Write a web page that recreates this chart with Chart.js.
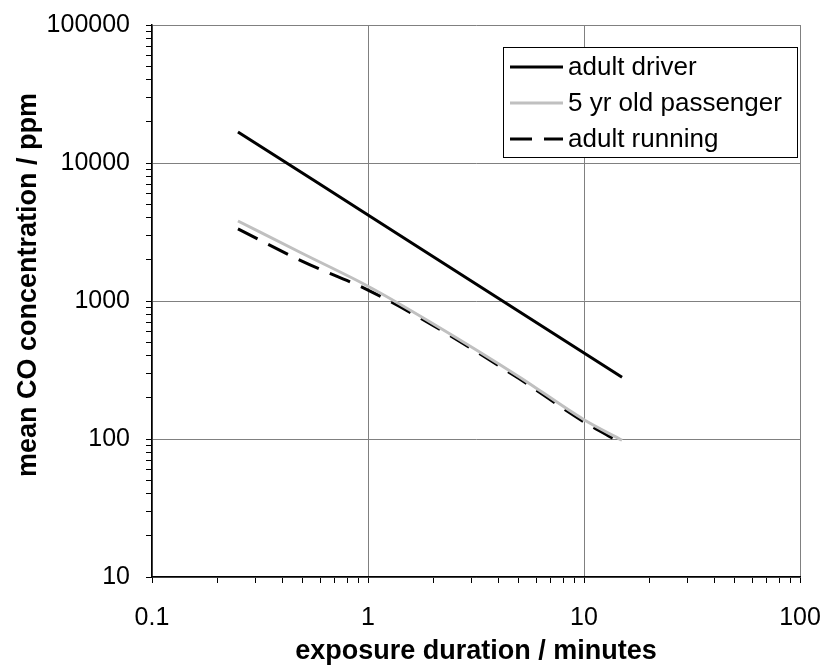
<!DOCTYPE html>
<html>
<head>
<meta charset="utf-8">
<script src="https://cdn.jsdelivr.net/npm/chart.js@4.4.1/dist/chart.umd.min.js"></script>
<style>
  html, body { margin: 0; padding: 0; background: #fff; }
  #wrap { width: 822px; height: 668px; }
</style>
</head>
<body>
<div id="wrap"><canvas id="plot"></canvas></div>
<script>
// exposure duration (minutes) and mean CO concentration (ppm)
const driverX = [0.25, 1, 15];
const driverY = [16800, 4200, 280];
const passengerX = [0.25, 0.5, 1, 2, 5, 10, 15];
const passengerY = [3800, 2200, 1280, 685, 283, 138, 98];
const runningX = [0.25, 0.5, 1, 2, 5, 10, 15];
const runningY = [3330, 1930, 1200, 665, 274, 133, 93];

const xTickLabels = ['0.1', '1', '10', '100'];
const yTickLabels = ['10', '100', '1000', '10000', '100000'];
const yTitle = 'mean CO concentration / ppm';

const FONT = 'Liberation Sans, Arial, sans-serif';

function pts(xs, ys) { return xs.map((x, i) => ({ x: x, y: ys[i] })); }

// all 1..9 x 10^n positions between first and last decade label
function logTicks(labels) {
  const lo = Math.round(Math.log10(parseFloat(labels[0])));
  const hi = Math.round(Math.log10(parseFloat(labels[labels.length - 1])));
  const out = [];
  for (let e = lo; e <= hi; e++) {
    for (let m = 1; m <= 9; m++) {
      if (e === hi && m > 1) break;
      out.push({ value: Number((m * Math.pow(10, e)).toPrecision(6)) });
    }
  }
  return out;
}
function isMajor(v) {
  const l = Math.log10(v);
  return Math.abs(l - Math.round(l)) < 1e-9;
}
function labelFor(labels, v) {
  if (!isMajor(v)) return '';
  const hit = labels.find(s => Math.abs(parseFloat(s) - v) < 1e-9 * Math.max(1, v));
  return hit || '';
}

// legend drawn inside the plot area (top right) + y title placed like the original
const extras = {
  id: 'extras',
  afterDatasetsDraw(chart) {
    const ctx = chart.ctx;
    const a = chart.chartArea;
    const x0 = a.right - 297, y0 = a.top + 22, w = 294, h = 110;
    ctx.save();
    ctx.fillStyle = '#fff';
    ctx.fillRect(x0, y0, w, h);
    ctx.strokeStyle = '#000';
    ctx.lineWidth = 1;
    ctx.strokeRect(x0 + 0.5, y0 + 0.5, w, h);
    ctx.font = '26px ' + FONT;
    ctx.textBaseline = 'middle';
    chart.data.datasets.forEach((ds, i) => {
      const yy = y0 + 20 + i * 36;
      ctx.beginPath();
      ctx.strokeStyle = ds.borderColor;
      ctx.lineWidth = ds.borderWidth;
      ctx.setLineDash(ds.borderDash || []);
      ctx.moveTo(x0 + 7, yy);
      ctx.lineTo(x0 + 60, yy);
      ctx.stroke();
      ctx.setLineDash([]);
      ctx.fillStyle = '#000';
      ctx.fillText(ds.label, x0 + 65, yy + 1);
    });
    ctx.restore();

    ctx.save();
    ctx.translate(29, a.top + 260);
    ctx.rotate(-Math.PI / 2);
    ctx.font = 'bold 27px ' + FONT;
    ctx.fillStyle = '#000';
    ctx.textAlign = 'center';
    ctx.textBaseline = 'middle';
    ctx.fillText(yTitle, 0, 0);
    ctx.restore();
  }
};

new Chart(document.getElementById('plot'), {
  type: 'line',
  data: {
    datasets: [
      { label: 'adult driver', data: pts(driverX, driverY), borderColor: '#000000',
        borderWidth: 3, pointRadius: 0, cubicInterpolationMode: 'monotone', fill: false },
      { label: '5 yr old passenger', data: pts(passengerX, passengerY), borderColor: '#c0c0c0',
        borderWidth: 3, pointRadius: 0, cubicInterpolationMode: 'monotone', fill: false },
      { label: 'adult running', data: pts(runningX, runningY), borderColor: '#000000',
        borderWidth: 3, borderDash: [22, 12], pointRadius: 0, cubicInterpolationMode: 'monotone', fill: false }
    ]
  },
  options: {
    responsive: true,
    maintainAspectRatio: false,
    animation: false,
    layout: { padding: { top: 25, right: 22, left: 0, bottom: 0 } },
    plugins: { legend: { display: false }, tooltip: { enabled: false } },
    scales: {
      x: {
        type: 'logarithmic',
        min: 0.1, max: 100,
        afterBuildTicks: s => { s.ticks = logTicks(xTickLabels); },
        afterFit: s => { s.height = 91; s.paddingRight = 0; s.paddingLeft = 0; },
        ticks: {
          autoSkip: false, maxRotation: 0, padding: 20,
          color: '#000', font: { family: FONT, size: 25 },
          callback: v => labelFor(xTickLabels, v)
        },
        grid: {
          color: c => (c.tick && isMajor(c.tick.value)) ? '#808080' : 'rgba(0,0,0,0)',
          tickColor: '#000', tickLength: 6, lineWidth: 1
        },
        border: { color: '#000', width: 1.5 },
        title: {
          display: true, text: 'exposure duration / minutes', color: '#000',
          font: { family: FONT, size: 27, weight: 'bold' }, padding: { top: 0, bottom: 0 }
        }
      },
      y: {
        type: 'logarithmic',
        min: 10, max: 100000,
        afterBuildTicks: s => { s.ticks = logTicks(yTickLabels); },
        afterFit: s => { s.width = 152; s.paddingTop = 0; s.paddingBottom = 0; },
        ticks: {
          autoSkip: false, padding: 16,
          color: '#000', font: { family: FONT, size: 25 },
          callback: v => labelFor(yTickLabels, v)
        },
        grid: {
          color: c => (c.tick && isMajor(c.tick.value)) ? '#808080' : 'rgba(0,0,0,0)',
          tickColor: '#000', tickLength: 6, lineWidth: 1
        },
        border: { color: '#000', width: 1.5 },
        title: { display: false, text: yTitle }
      }
    }
  },
  plugins: [extras]
});
</script>
</body>
</html>
